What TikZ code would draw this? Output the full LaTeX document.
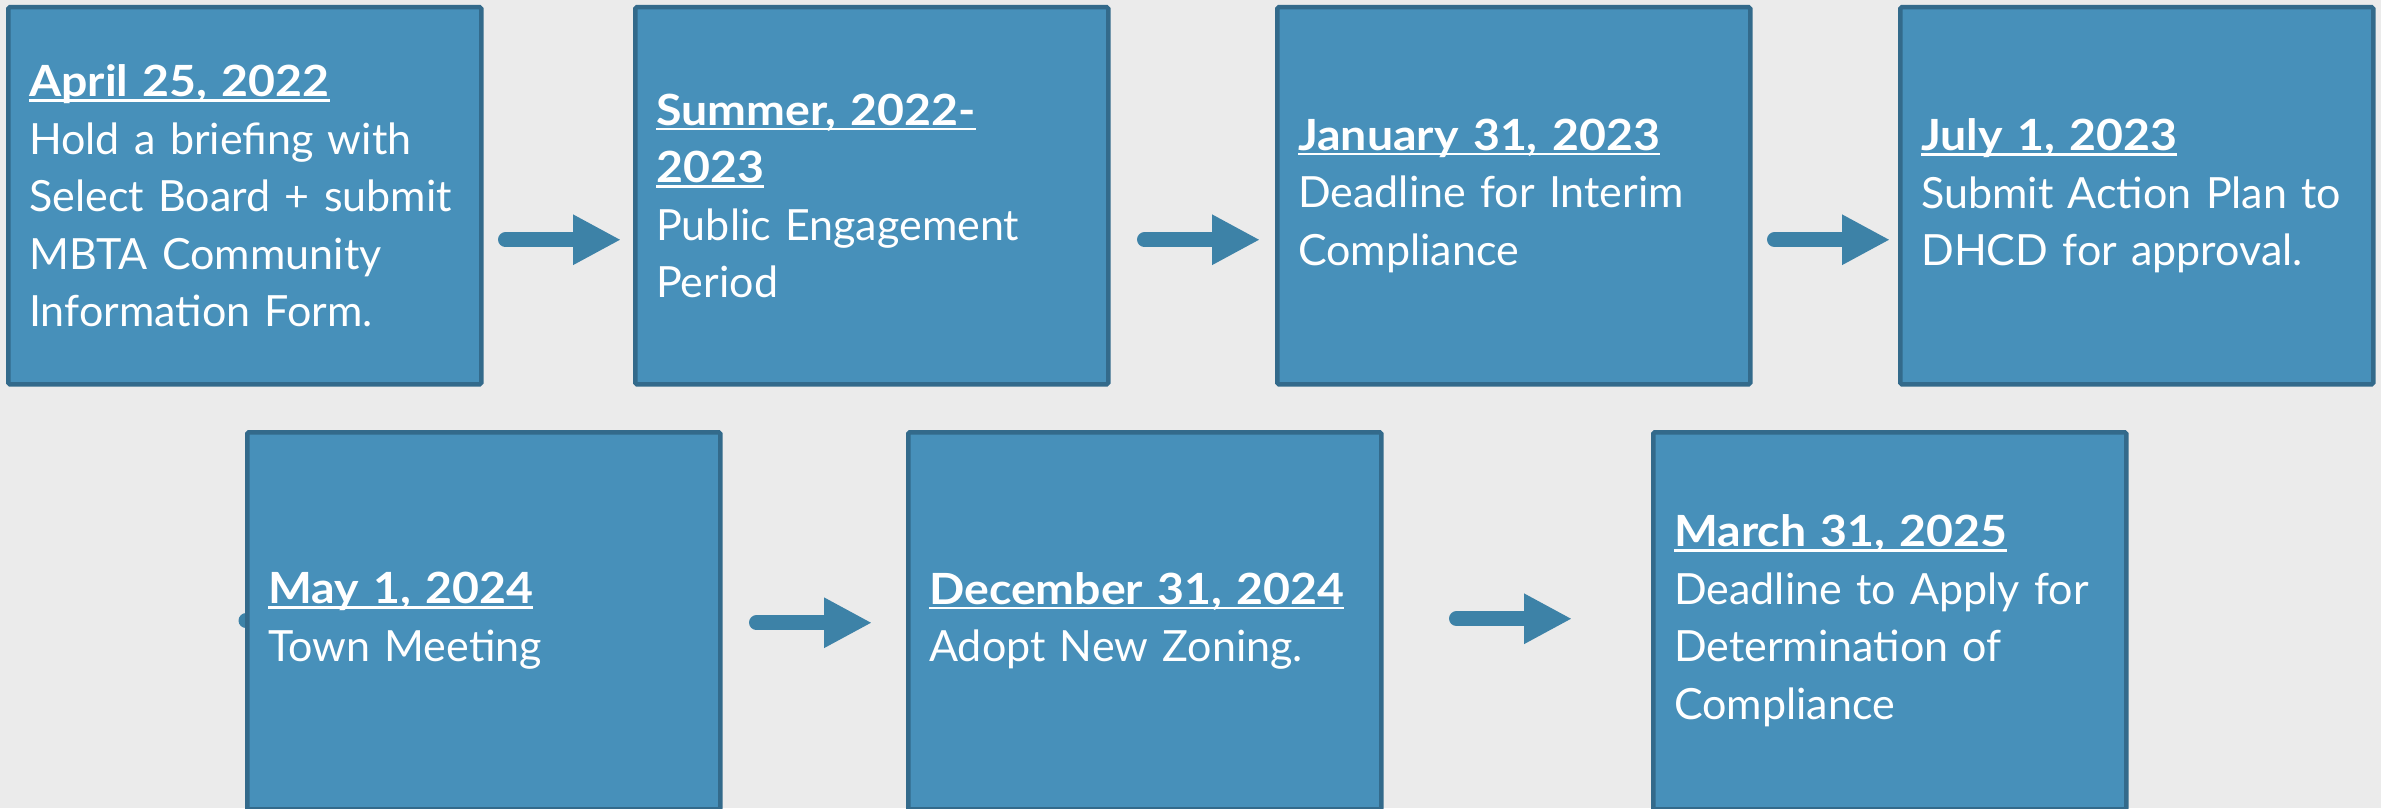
\documentclass[tikz,border=0pt]{standalone}
\usepackage{fontspec}
\setmainfont{Lato}[BoldFeatures={FakeStretch=1.08}]
\usetikzlibrary{arrows.meta, backgrounds}

\definecolor{pagebg}{HTML}{EBEBEB}
\definecolor{boxfill}{HTML}{4790BA}
\definecolor{boxedge}{HTML}{336A8B}
\definecolor{arrowblue}{HTML}{3D82A7}

% bold underlined date at the head of each box
\newsavebox{\whenbox}
\newcommand{\when}[1]{\mbox{\sbox{\whenbox}{\bfseries #1}\rlap{\rule[-5pt]{\wd\whenbox}{2.5pt}}\usebox{\whenbox}}}

\tikzstyle{milestone} = [rectangle, anchor=north west, draw=boxedge, line width=4.5pt, fill=boxfill, rounded corners=1.5pt, minimum width=473pt, minimum height=377pt, text width=431pt, inner xsep=21pt, inner ysep=0pt, align=left, text=white, font=\fontsize{43}{57.5}\selectfont]
\tikzstyle{arrow} = [line width=15pt, line cap=round, draw=arrowblue, -{Triangle[length=48pt, width=47pt]}]

\begin{document}
\begin{tikzpicture}[x=1pt, y=-1pt]

\useasboundingbox (0, 0) rectangle (2381, 808);

% top row
\node at (6, 5) (apr) [milestone] {\when{April 25, 2022}\\ Hold a briefing with\\ Select Board + submit\\ MBTA Community\\ Information Form.};
\node at (633, 5) (summer) [milestone] {\when{Summer, 2022-}\\ \when{2023}\\ Public Engagement\\ Period};
\node at (1275, 5) (jan) [milestone] {\when{January 31, 2023}\\ Deadline for Interim\\ Compliance};
\node at (1898, 5) (jul) [milestone] {\when{July 1, 2023}\\ Submit Action Plan to\\ DHCD for approval.};

% bottom row
\node at (245, 430) (may) [milestone] {\when{May 1, 2024}\\ Town Meeting};
\node at (906, 430) (dec) [milestone] {\when{December 31, 2024}\\ Adopt New Zoning.};
\node at (1651, 430) (mar) [milestone] {\when{March 31, 2025}\\ Deadline to Apply for\\ Determination of\\ Compliance};

\draw [arrow] ([shift={(22, 44)}]apr.east) -- ([shift={(-12, 44)}]summer.west);
\draw [arrow] ([shift={(34, 44)}]summer.east) -- ([shift={(-15, 44)}]jan.west);
\draw [arrow] ([shift={(22, 44)}]jan.east) -- ([shift={(-8, 44)}]jul.west);
\draw [arrow] ([shift={(34, 2)}]may.east) -- ([shift={(-34, 2)}]dec.west);
\draw [arrow] ([shift={(73, -2)}]dec.east) -- ([shift={(-79, -2)}]mar.west);

\begin{pgfonlayer}{background}
\fill [pagebg] (0, 0) rectangle (2381, 808);
% only the round end of this one shows left of the box
\draw [arrow] ([xshift=1pt]may.west) -- (may.center);
\end{pgfonlayer}

\end{tikzpicture}
\end{document}
